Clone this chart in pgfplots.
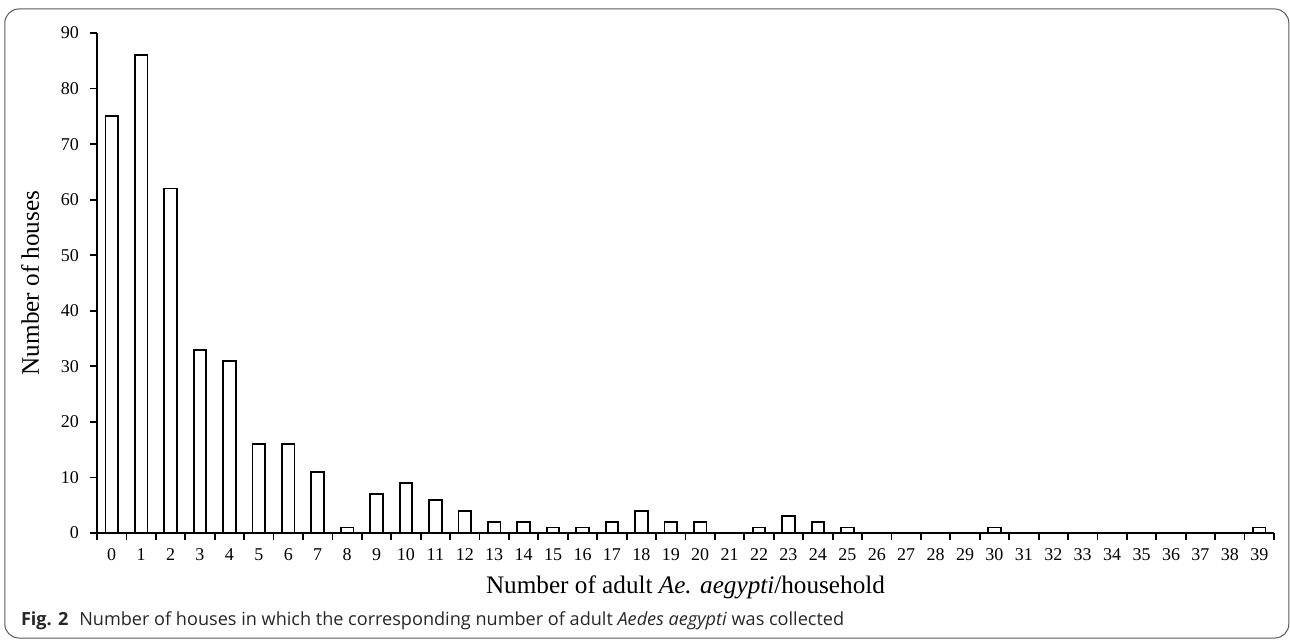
\documentclass[border=0pt]{standalone}
\usepackage{pgfplots}
\pgfplotsset{compat=1.18}
\usepackage{fontspec}
\setmainfont{Liberation Serif}
\newfontfamily\capfont{Open Sans}
\begin{document}
\begin{tikzpicture}[x=1pt,y=1pt]
\path[use as bounding box] (0,0) rectangle (645,-320.5);
\draw[black!65, line width=0.5pt, rounded corners=7pt] (2.4,-4.5) rectangle (644.4,-319);
\begin{axis}[
  at={(48.5pt,-266.5pt)}, anchor=south west,
  scale only axis, width=588.5pt, height=250pt,
  xmin=-0.5, xmax=39.5, ymin=0, ymax=90,
  axis x line*=bottom, axis y line*=left,
  axis line style={line width=0.9pt},
  tick align=outside,
  tick style={black, line width=0.9pt},
  major tick length=3.5pt, minor tick length=3.5pt,
  xtick={0,...,39},
  x tick style={draw=none},
  minor xtick={-0.5,0.5,...,39.5},
  minor x tick style={draw=black, line width=0.9pt},
  ytick={0,10,...,90},
  /pgf/number format/assume math mode=true,
  ticklabel style={font=\fontsize{9}{10}\selectfont},
  xticklabel style={anchor=base, yshift=-10pt},
  yticklabel style={xshift=-2pt},
  xlabel={Number of adult \textit{Ae. aegypti}/household},
  ylabel={Number of houses},
  label style={font=\fontsize{12.6}{14}\selectfont},
  xlabel style={at={(axis description cs:0.5,0)}, anchor=base, yshift=-30pt},
  ylabel style={at={(axis description cs:-0.0569,0.5)}, anchor=center},
]
\addplot[ybar, bar width=6.3pt, fill=white, draw=black, line width=0.9pt]
coordinates {(0,75) (1,86) (2,62) (3,33) (4,31) (5,16) (6,16) (7,11) (8,1) (9,7)
(10,9) (11,6) (12,4) (13,2) (14,2) (15,1) (16,1) (17,2) (18,4) (19,2) (20,2)
(22,1) (23,3) (24,2) (25,1) (30,1) (39,1)};
\end{axis}
\node[anchor=base west, inner sep=0pt, text=black!85] at (10.3,-312.5)
  {\capfont\fontsize{9.05}{10}\selectfont\textbf{Fig. 2}\hspace{0.6em}Number of houses in which the corresponding number of adult \textit{Aedes aegypti} was collected};
\end{tikzpicture}
\end{document}
